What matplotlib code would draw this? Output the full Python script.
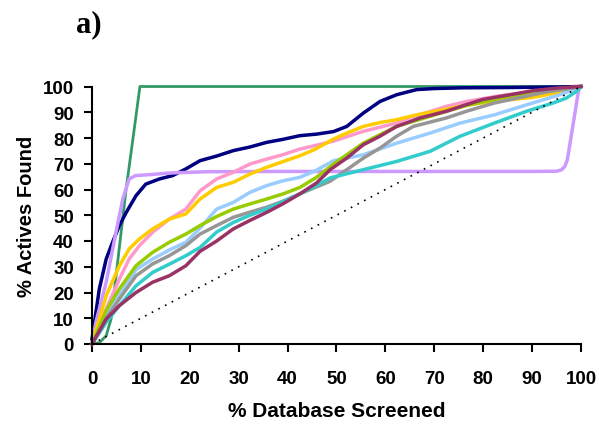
import matplotlib
matplotlib.use("Agg")
import matplotlib.pyplot as plt

# ---- data ----
green_x = [0, 1.5, 2.9, 3.9, 5.5, 7, 8.5, 9.8, 100]
green_y = [0, 0.5, 3.2, 9.7, 36, 60.5, 81.5, 100, 100]

navy_x = [0, 0.1, 1.5, 2.9, 4.2, 5.6, 7, 9, 11, 13.8, 16.5, 19.2, 22.1, 25.5, 28.9, 32.3,
          35.7, 39.1, 42.5, 45.9, 49.4, 52.1, 55.5, 58.9, 62.3, 66.4, 70, 76, 85, 95, 100]
navy_y = [2, 3.2, 21.4, 33, 39.5, 46, 51.1, 57.6, 62.1, 64.1, 65.4, 68, 71.2, 73, 75.1, 76.5,
          78.3, 79.5, 80.9, 81.5, 82.5, 84.5, 89.7, 94.2, 96.8, 98.8, 99.2, 99.5, 99.6, 99.8, 100]

purple_x = [0, 0.8, 2.9, 4.9, 6.3, 7.6, 8.9, 12, 15.8, 23.3, 35, 50, 70, 90, 95, 96, 96.7,
            97.2, 98, 99, 99.5, 100]
purple_y = [0, 8.5, 24, 43.4, 56.3, 64.1, 65.4, 65.8, 66.4, 66.9, 67, 67, 67, 67, 67.1, 67.6, 69,
            71.5, 80.8, 92.5, 98.5, 100]

pink_x = [0, 2.9, 5.6, 7.6, 9.7, 12.4, 15.8, 19.2, 22.1, 25.5, 28.9, 32.3, 35.7, 39, 42.5,
          45.5, 49.4, 52.1, 55.5, 58.9, 62.3, 65, 67.8, 72.5, 76.6, 83.4, 90.2, 95, 100]
pink_y = [0, 13.6, 25.2, 33, 38.2, 43.4, 48.5, 52.4, 59.5, 64.1, 66.7, 69.9, 71.8, 73.5, 75.7,
          77, 78.8, 80.5, 82.6, 84.2, 85.8, 88, 89.5, 92.3, 94.2, 96.4, 98, 99, 100]

yellow_x = [0, 2.9, 5.6, 7.6, 9.7, 12.4, 15.8, 19.2, 22.1, 25.5, 28.9, 32.3, 35.7, 39, 42.5,
            45.5, 49.4, 52.1, 55.5, 58.9, 62.3, 66.4, 72.5, 76.6, 83.4, 90.2, 95, 100]
yellow_y = [0, 18.8, 30.4, 36.9, 40.8, 44.7, 48.5, 50.5, 56.3, 60.8, 62.8, 66, 68.6, 70.8, 73.1,
            75.5, 79.6, 81.9, 84.5, 86, 87.1, 89, 91.2, 92.8, 94.5, 95.8, 97.5, 100]

lgreen_x = [0, 2.9, 5.6, 9, 12.4, 15.8, 19.2, 22.1, 25.5, 28.9, 32.3, 35.7, 39.1, 42.5, 45.9,
            49.4, 52.1, 55.5, 58.9, 62.3, 69.1, 75.9, 83.4, 90.2, 95, 100]
lgreen_y = [0, 13, 21.4, 30.4, 35.6, 39.5, 42.7, 46, 49.5, 52.4, 54.4, 56.3, 58.3, 60.8, 64.7,
            69.9, 73.5, 78, 81.3, 84.5, 88.4, 92.3, 95.5, 97.7, 98.8, 100]

lblue_x = [0, 2.9, 5.6, 9, 12.4, 15.8, 19.2, 22.1, 25.5, 28.9, 32.3, 35.7, 39.1, 42.5, 45.9,
           49.4, 55.5, 62.3, 69.1, 75.3, 82.3, 88.9, 95.7, 100]
lblue_y = [0, 11, 19, 28.9, 33, 36.5, 39.5, 45, 52.4, 55, 58.9, 61.5, 63.4, 64.7, 67.5,
           71.2, 73.5, 78, 81.9, 85.8, 89, 92.9, 96.8, 100]

gray_x = [0, 2.9, 5.6, 9, 12.4, 15.8, 19.2, 22.1, 25.5, 28.9, 32.3, 35.7, 39.1, 42.5, 45.9,
          48.7, 52.1, 55.5, 58.9, 62.3, 65.7, 72.5, 76.6, 82.3, 87, 92.6, 97, 100]
gray_y = [0, 10, 17.5, 26.5, 31.1, 34.3, 38.2, 42.7, 46, 49.2, 51.2, 53.1, 55.5, 58.3, 61,
          63.2, 67.7, 72.2, 76.1, 80.7, 84.5, 87.8, 90.4, 93.6, 95.5, 97.8, 99, 100]

cyan_x = [0, 2.9, 5.6, 9, 12.4, 15.8, 19.2, 22.1, 25.5, 28.9, 32.3, 35.7, 39.1, 42.5, 45.9,
          48.7, 55.5, 62.3, 69.1, 75.3, 82.3, 88.9, 94.3, 97, 99, 100]
cyan_y = [0, 8.4, 14.9, 22.6, 27.8, 31, 34.3, 37.5, 43.5, 47.2, 50, 52.4, 55.3, 58.3, 61.5,
          64.5, 67.7, 70.9, 74.8, 80.7, 85.8, 90.4, 93.6, 95.5, 98, 100]

maroon_x = [0, 2.9, 5.6, 9, 12.4, 15.8, 19.2, 22.1, 25.5, 28.9, 32.3, 35.7, 39.1, 42.5, 45.9,
            48.7, 52.1, 55.5, 58.9, 62.3, 67.1, 72.5, 76.6, 80, 85.5, 90.2, 95.7, 100]
maroon_y = [0, 9.7, 14.9, 20, 24, 26.5, 30.4, 36, 40, 44.7, 48, 51.1, 54.5, 58.3, 62.5,
            67.7, 72.2, 77.4, 80.7, 84.5, 87.8, 90.4, 93, 95, 96.8, 98.4, 99.5, 100]

random_x = [0, 100]
random_y = [0, 100]

ticks = list(range(0, 101, 10))

# ---- drawing ----
fig = plt.figure(figsize=(5.99, 4.27), dpi=100)
ax = fig.add_axes([92/599, 1-345/427, (581-92)/599, (345-87.5)/427])

series = [
    (green_x, green_y, "#339966", 2.0),
    (navy_x, navy_y, "#000080", 2.5),
    (purple_x, purple_y, "#cc99ff", 2.5),
    (pink_x, pink_y, "#ff99cc", 2.5),
    (yellow_x, yellow_y, "#ffcc00", 2.5),
    (lblue_x, lblue_y, "#99ccff", 2.5),
    (lgreen_x, lgreen_y, "#99cc00", 2.5),
    (gray_x, gray_y, "#969696", 2.5),
    (cyan_x, cyan_y, "#33cccc", 2.5),
    (maroon_x, maroon_y, "#993366", 2.5),
]
for xs, ys, c, lw in series:
    ax.plot(xs, ys, color=c, lw=lw, solid_joinstyle="round", clip_on=False)

ax.plot(random_x, random_y, color="black", lw=1.2, linestyle=(0, (1, 3.5)))

ax.set_xlim(0, 100)
ax.set_ylim(0, 100)
ax.set_xticks(ticks)
ax.set_yticks(ticks)
for s in ("top", "right"):
    ax.spines[s].set_visible(False)
for s in ("left", "bottom"):
    ax.spines[s].set_linewidth(1.5)
ax.tick_params(direction="out", length=6, width=1.5, labelsize=13.5)
ax.tick_params(axis="x", pad=13)
ax.tick_params(axis="y", pad=7)
for lab in ax.get_xticklabels() + ax.get_yticklabels():
    lab.set_fontweight("bold")
    lab.set_family("Liberation Sans")

ax.set_xlabel("% Database Screened", fontsize=15, fontweight="bold",
              family="Liberation Sans", labelpad=10)
ax.set_ylabel("% Actives Found", fontsize=14.5, fontweight="bold",
              family="Liberation Sans", labelpad=5)

fig.text(88.5/599, 1-25/427, "a)", fontsize=22, fontweight="bold",
         family="Liberation Serif", ha="center", va="center")

fig.savefig("out.png", dpi=100)
